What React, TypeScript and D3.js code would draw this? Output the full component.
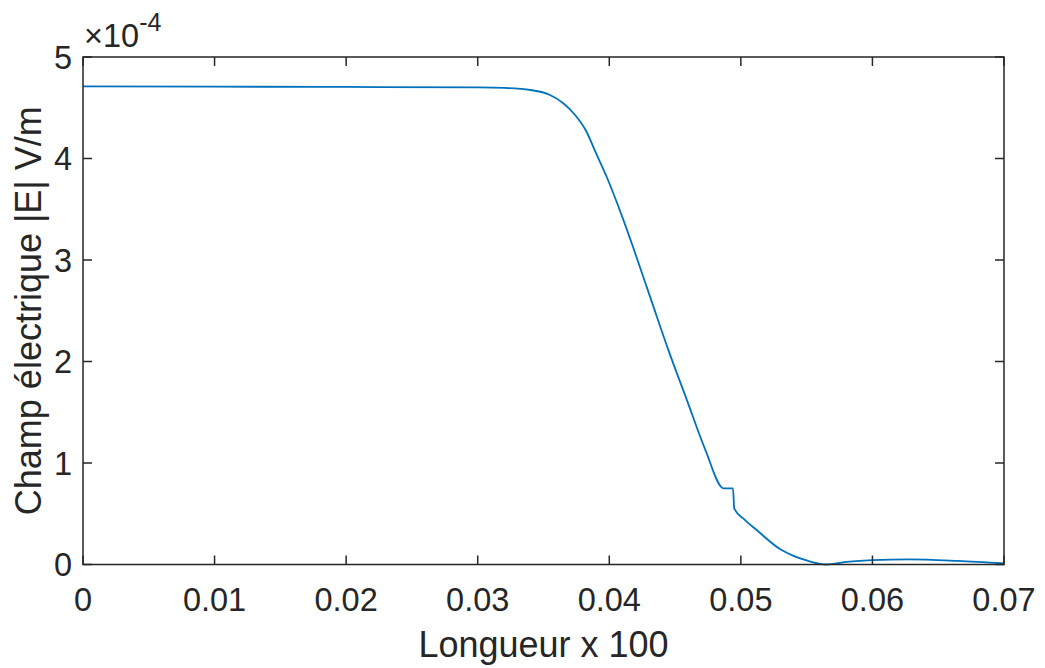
import React from "react";
import * as d3 from "d3";

const xValues = [0, 0.01, 0.02, 0.03, 0.032, 0.034, 0.0355, 0.0365, 0.0374, 0.0382, 0.039, 0.0398, 0.041, 0.0418, 0.0432, 0.0445, 0.0459, 0.0473, 0.0487, 0.0494, 0.0495, 0.0503, 0.0512, 0.053, 0.054, 0.055, 0.0565, 0.058, 0.06, 0.0628, 0.0665, 0.07];
const yValues = [4.71, 4.708, 4.705, 4.7, 4.695, 4.675, 4.626, 4.544, 4.429, 4.281, 4.051, 3.82, 3.42, 3.13, 2.6, 2.11, 1.62, 1.13, 0.75, 0.75, 0.55, 0.44, 0.34, 0.15, 0.085, 0.04, 0.0, 0.025, 0.044, 0.051, 0.035, 0.01];
const xTicks = [0, 0.01, 0.02, 0.03, 0.04, 0.05, 0.06, 0.07];
const xTickLabels = ["0", "0.01", "0.02", "0.03", "0.04", "0.05", "0.06", "0.07"];
const yTicks = [0, 1, 2, 3, 4, 5];
const yTickLabels = ["0", "1", "2", "3", "4", "5"];
const xLabel = "Longueur x 100";
const yLabel = "Champ électrique |E| V/m";

const W = 1045, H = 668;
const L = 83, R = 1004, T = 57, B = 564.5;
const axisColor = "#262626";
const font = "'Liberation Sans', Arial, Helvetica, sans-serif";

export default function App() {
  const x = d3.scaleLinear().domain([0, 0.07]).range([L, R]);
  const y = d3.scaleLinear().domain([0, 5]).range([B, T]);
  const data = xValues.map((v, i) => [v, yValues[i]] as [number, number]);
  const line = d3.line<[number, number]>().x(d => x(d[0])).y(d => y(d[1])).curve(d3.curveMonotoneX);
  const tl = 9;
  return (
    <svg width={W} height={H} style={{ position: "absolute", left: 0, top: 0, background: "#fff" }}>
      <rect x={0} y={0} width={W} height={H} fill="#fff" />
      <path d={line(data) || ""} fill="none" stroke="#0072BD" strokeWidth={1.8} />
      <rect x={L} y={T} width={R - L} height={B - T} fill="none" stroke={axisColor} strokeWidth={1.5} />
      {xTicks.map((t, i) => (
        <g key={"xt" + i}>
          <line x1={x(t)} x2={x(t)} y1={B} y2={B - tl} stroke={axisColor} strokeWidth={1.5} />
          <line x1={x(t)} x2={x(t)} y1={T} y2={T + tl} stroke={axisColor} strokeWidth={1.5} />
          <text x={x(t)} y={611} textAnchor="middle" fontFamily={font} fontSize={32.5} fill={axisColor}>{xTickLabels[i]}</text>
        </g>
      ))}
      {yTicks.map((t, i) => (
        <g key={"yt" + i}>
          <line x1={L} x2={L + tl} y1={y(t)} y2={y(t)} stroke={axisColor} strokeWidth={1.5} />
          <line x1={R} x2={R - tl} y1={y(t)} y2={y(t)} stroke={axisColor} strokeWidth={1.5} />
          <text x={72} y={y(t) + 11.5} textAnchor="end" fontFamily={font} fontSize={32.5} fill={axisColor}>{yTickLabels[i]}</text>
        </g>
      ))}
      <text x={(L + R) / 2} y={657} textAnchor="middle" fontFamily={font} fontSize={36} fill={axisColor}>{xLabel}</text>
      <text transform={`translate(41, ${(T + B) / 2}) rotate(-90)`} textAnchor="middle" fontFamily={font} fontSize={36} fill={axisColor}>{yLabel}</text>
      <text x={84} y={47} fontFamily={font} fontSize={32.5} fill={axisColor}>
        ×10<tspan dy={-16} fontSize={25}>-4</tspan>
      </text>
    </svg>
  );
}
